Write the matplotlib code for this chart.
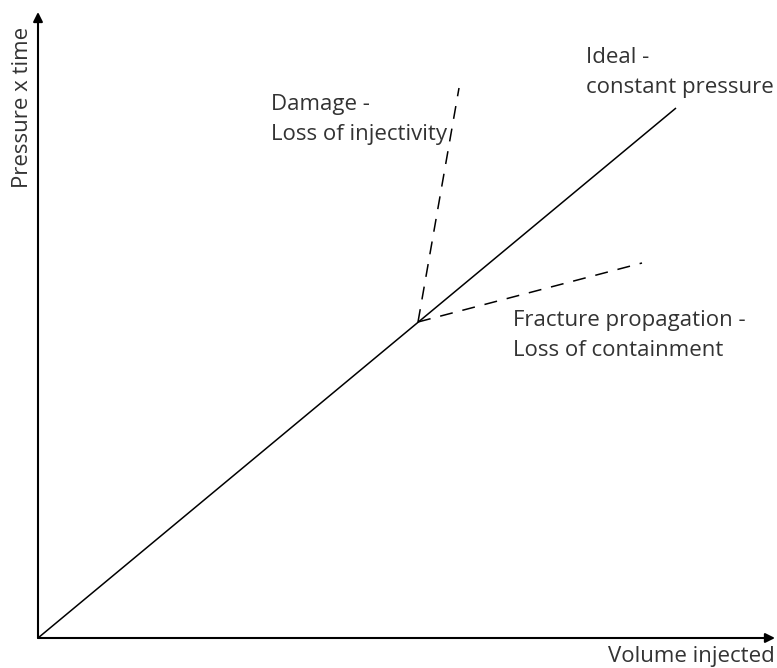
import matplotlib.pyplot as plt

plt.rcParams['font.family'] = ['Open Sans', 'DejaVu Sans']

# values (pixel-like units from the origin)
ideal_x = [0, 638]
ideal_y = [0, 530]
damage_x = [380, 421]
damage_y = [316, 550]
fracture_x = [380, 604]
fracture_y = [316, 375]
x_axis_end = 737
y_axis_end = 626

labels = {
    'ideal': 'Ideal -\nconstant pressure',
    'damage': 'Damage -\nLoss of injectivity',
    'fracture': 'Fracture propagation -\nLoss of containment',
}

fig = plt.figure(figsize=(7.77, 6.68), dpi=100)
ax = fig.add_axes([38/777, 30/668, 739/777, 638/668])
ax.set_xlim(0, 739)
ax.set_ylim(0, 638)
ax.axis('off')

txt = '#333333'

# axes arrows
ax.annotate('', xy=(x_axis_end, 0), xytext=(0, 0),
            arrowprops=dict(arrowstyle='-|>', color='black', lw=1.5,
                            mutation_scale=14, shrinkA=0, shrinkB=0))
ax.annotate('', xy=(0, y_axis_end), xytext=(0, 0),
            arrowprops=dict(arrowstyle='-|>', color='black', lw=1.5,
                            mutation_scale=14, shrinkA=0, shrinkB=0))

ax.plot(ideal_x, ideal_y, color='black', lw=1.1, solid_capstyle='butt')
ax.plot(damage_x, damage_y, color='black', lw=1.1, dashes=(8.5, 6.5))
ax.plot(fracture_x, fracture_y, color='black', lw=1.1, dashes=(8.5, 6.5))

ax.text(548, 545, labels['ideal'], fontsize=16, color=txt,
        ha='left', va='baseline', linespacing=1.55)
ax.text(233, 498, labels['damage'], fontsize=16, color=txt,
        ha='left', va='baseline', linespacing=1.55)
ax.text(475, 282, labels['fracture'], fontsize=16, color=txt,
        ha='left', va='baseline', linespacing=1.55)

fig.text(775/777, 6/668, 'Volume injected', fontsize=16, color=txt,
         ha='right', va='baseline')
fig.text(23/777, 1 - 107/668, 'Pressure x time', fontsize=16, color=txt,
         ha='center', va='center', rotation=90)

fig.savefig('out.png', dpi=100)
